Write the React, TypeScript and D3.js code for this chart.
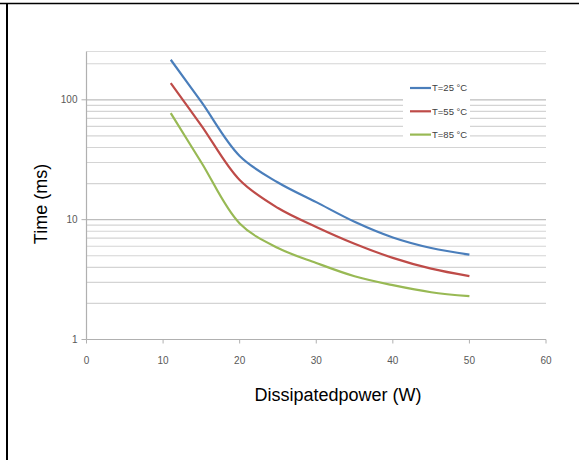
import React from "react";
import * as d3 from "d3";

const powerW = [11, 15, 20, 25, 30, 35, 40, 45, 50];
const time25 = [216, 96, 34, 20.4, 14.0, 9.6, 7.1, 5.8, 5.1];
const time55 = [138, 61, 21.4, 12.5, 8.7, 6.3, 4.8, 3.9, 3.38];
const time85 = [77.4, 30, 9.3, 5.8, 4.35, 3.37, 2.84, 2.48, 2.3];
const seriesNames = ["T=25 °C", "T=55 °C", "T=85 °C"];
const seriesColors = ["#4A7EBB", "#BE4B48", "#98B954"];
const xTicks = [0, 10, 20, 30, 40, 50, 60];
const yMajorTicks = [1, 10, 100];
const yMax = 253;

export default function App() {
  const W = 579;
  const H = 460;
  const x = d3.scaleLinear().domain([0, 60]).range([86.5, 546]);
  const y = d3.scaleLog().domain([1, yMax]).range([339.5, 51.5]);

  const gridVals: number[] = [];
  for (let k = 0; k <= 2; k++) {
    for (let m = 1; m <= 9; m++) {
      const v = m * Math.pow(10, k);
      if (v > 1 && v <= yMax) gridVals.push(v);
    }
  }

  const series = [time25, time55, time85];
  const line = d3
    .line<[number, number]>()
    .x((d) => x(d[0]))
    .y((d) => y(d[1]))
    .curve(d3.curveCatmullRom.alpha(0.5));

  const tickColor = "#595959";
  const font = "'Liberation Sans', Arial, sans-serif";

  return (
    <svg
      width={W}
      height={H}
      style={{ position: "absolute", left: 0, top: 0, background: "#fff" }}
      fontFamily={font}
    >
      {/* outer frame lines */}
      <line x1={0} x2={W} y1={3.5} y2={3.5} stroke="#000" strokeWidth={1.5} />
      <line x1={7} x2={7} y1={3} y2={H} stroke="#000" strokeWidth={2} />

      {/* gridlines */}
      {gridVals.map((v) => (
        <line
          key={v}
          x1={x(0)}
          x2={x(60)}
          y1={y(v)}
          y2={y(v)}
          stroke={yMajorTicks.includes(v) ? "#bdbdbd" : "#d4d4d4"}
          strokeWidth={1.2}
        />
      ))}
      <line x1={x(0)} x2={x(60)} y1={y(yMax)} y2={y(yMax)} stroke="#dcdcdc" strokeWidth={1.2} />

      {/* axes */}
      <line x1={x(0)} x2={x(0)} y1={y(yMax)} y2={y(1)} stroke="#b0b0b0" strokeWidth={1.2} />
      <line x1={x(0)} x2={x(60)} y1={y(1)} y2={y(1)} stroke="#b0b0b0" strokeWidth={1.2} />
      {xTicks.map((t) => (
        <g key={t}>
          <line x1={x(t)} x2={x(t)} y1={y(1)} y2={y(1) + 4} stroke="#b0b0b0" />
          <text x={x(t)} y={y(1) + 24} textAnchor="middle" fontSize={10} fill={tickColor}>
            {t}
          </text>
        </g>
      ))}
      {yMajorTicks.map((t) => (
        <g key={t}>
          <line x1={x(0) - 5} x2={x(0)} y1={y(t)} y2={y(t)} stroke="#b0b0b0" />
          <text x={x(0) - 9} y={y(t)} dy="0.35em" textAnchor="end" fontSize={10} fill={tickColor}>
            {t}
          </text>
        </g>
      ))}

      {/* series */}
      {series.map((s, i) => (
        <path
          key={i}
          d={line(powerW.map((p, j) => [p, s[j]] as [number, number])) || ""}
          fill="none"
          stroke={seriesColors[i]}
          strokeWidth={2.2}
        />
      ))}

      {/* legend */}
      <rect x={403} y={78} width={67} height={66} fill="#fff" />
      {seriesNames.map((n, i) => (
        <g key={n} transform={`translate(410, ${88 + i * 23.3})`}>
          <line x1={0} x2={21} y1={0} y2={0} stroke={seriesColors[i]} strokeWidth={2.2} />
          <text x={22} y={0} dy="0.35em" fontSize={9.5} fill="#404040">
            {n}
          </text>
        </g>
      ))}

      {/* titles */}
      <text
        transform={`translate(47, 204) rotate(-90)`}
        textAnchor="middle"
        fontSize={18}
        fill="#000"
      >
        Time (ms)
      </text>
      <text x={338} y={401} textAnchor="middle" fontSize={18} fill="#000">
        Dissipatedpower (W)
      </text>
    </svg>
  );
}
